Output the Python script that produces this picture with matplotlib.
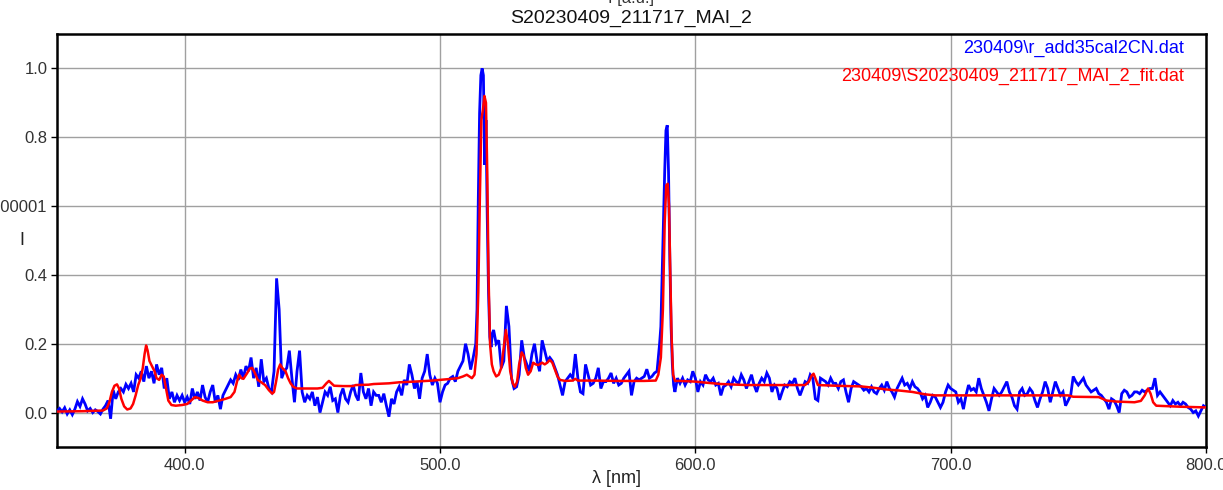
import numpy as np
import matplotlib
matplotlib.use("Agg")
import matplotlib.pyplot as plt
from matplotlib.ticker import FixedLocator, FixedFormatter

plt.rcParams["font.family"] = ["Liberation Sans", "DejaVu Sans"]

# Measured spectrum, sampled in segments (start wavelength, step, values)
meas_350 = [
    0.005, 0.012, 0.002, 0.014, -0.004, 0.008, -0.006, 0.010, 0.032, 0.018,
    0.040, 0.025, 0.005, 0.012, 0.000, 0.008, 0.003, -0.004, 0.010, 0.020,
    0.035, -0.018, 0.065, 0.040, 0.060, 0.070, 0.060, 0.082, 0.070, 0.085,
    0.060, 0.110, 0.100, 0.120, 0.090, 0.135, 0.100, 0.120, 0.085, 0.140,
    0.110, 0.130, 0.070, 0.100, 0.040, 0.060, 0.030, 0.050, 0.035, 0.050,
    0.030, 0.045, 0.025, 0.070, 0.040, 0.060, 0.035, 0.080, 0.045, 0.030,
    0.060, 0.080, 0.030, 0.050, 0.010, 0.050, 0.065, 0.080, 0.095, 0.085,
    0.110, 0.095, 0.125, 0.100, 0.135, 0.120, 0.160, 0.100, 0.130, 0.075,
    0.155, 0.090, 0.100, 0.070, 0.060, 0.120, 0.390, 0.300, 0.100, 0.120,
    0.130, 0.180, 0.100, 0.030, 0.120, 0.180, 0.060, 0.030, 0.050, 0.040,
    0.060, 0.020, 0.045, 0.000, 0.030, 0.060, 0.050, 0.075, 0.035, 0.040,
    0.000, 0.050, 0.070, 0.040, 0.030, 0.060, 0.080, 0.050, 0.035, 0.115,
    0.060, 0.040, 0.070, 0.020, 0.060, 0.050, 0.050, 0.030, 0.055, 0.020,
    -0.012, 0.040, 0.025, 0.060, 0.075, 0.050, 0.095, 0.080, 0.140, 0.110,
    0.070, 0.090, 0.040, 0.100, 0.120, 0.170, 0.110, 0.080, 0.100, 0.085,
    0.030, 0.060, 0.080, 0.085, 0.100, 0.105, 0.090, 0.120, 0.135, 0.150,
    0.200, 0.170, 0.125, 0.160,
]
meas_514 = [0.20, 0.30, 0.62, 0.87, 0.98, 1.00, 0.98, 0.72, 0.85, 0.57,
            0.35, 0.22, 0.19, 0.23]
meas_521 = [
    0.240, 0.200, 0.210, 0.130, 0.150, 0.310, 0.250, 0.100, 0.070, 0.075,
    0.110, 0.210, 0.160, 0.140, 0.120, 0.170, 0.200, 0.150, 0.120, 0.210,
    0.180, 0.150, 0.160, 0.150, 0.130, 0.110, 0.080, 0.050, 0.090, 0.100,
    0.110, 0.100, 0.170, 0.100, 0.060, 0.055, 0.140, 0.110, 0.080, 0.085,
    0.100, 0.130, 0.070, 0.090, 0.090, 0.100, 0.115, 0.085, 0.100, 0.080,
    0.085, 0.100, 0.110, 0.120, 0.050, 0.090, 0.100, 0.095, 0.100, 0.105,
    0.126, 0.100, 0.105, 0.115, 0.120,
]
meas_586 = [0.20, 0.25, 0.40, 0.55, 0.70, 0.82, 0.835, 0.70, 0.45, 0.25,
            0.14, 0.08]
meas_592 = [
    0.060, 0.100, 0.085, 0.100, 0.080, 0.095, 0.090, 0.120, 0.100, 0.060,
    0.090, 0.080, 0.110, 0.095, 0.090, 0.100, 0.080, 0.085, 0.050, 0.075,
    0.080, 0.090, 0.075, 0.100, 0.090, 0.085, 0.110, 0.095, 0.070, 0.090,
    0.110, 0.080, 0.060, 0.085, 0.100, 0.090, 0.115, 0.100, 0.060, 0.080,
    0.070, 0.037, 0.060, 0.080, 0.075, 0.090, 0.085, 0.100, 0.070, 0.050,
    0.070, 0.090, 0.085, 0.110, 0.100, 0.040, 0.035, 0.100, 0.095, 0.090,
    0.080, 0.100, 0.085, 0.085, 0.070, 0.090, 0.095, 0.060, 0.030, 0.070,
    0.090, 0.085, 0.080, 0.075, 0.065, 0.070, 0.060, 0.075, 0.060, 0.055,
    0.070, 0.080, 0.065, 0.090, 0.070, 0.060, 0.045, 0.070, 0.085, 0.100,
    0.080, 0.085, 0.070, 0.090, 0.075, 0.070, 0.060, 0.040, 0.050, 0.015,
    0.030, 0.050, 0.045, 0.030, 0.015, 0.030, 0.060, 0.080, 0.070, 0.065,
    0.060, 0.030, 0.040, 0.010, 0.050, 0.080, 0.065, 0.070, 0.060, 0.100,
    0.070, 0.050, 0.030, 0.005, 0.040, 0.070, 0.060, 0.050, 0.060, 0.075,
    0.090, 0.060, 0.045, 0.020, 0.010, 0.060, 0.070, 0.050, 0.055, 0.070,
    0.060, 0.035, 0.015, 0.040, 0.060, 0.090, 0.070, 0.030, 0.060, 0.090,
    0.070, 0.050, 0.060, 0.020, 0.035, 0.050, 0.105, 0.090, 0.080, 0.090,
    0.100, 0.080, 0.070, 0.060, 0.065, 0.070, 0.055, 0.050, 0.040, 0.030,
    0.010, 0.040, 0.035, 0.020, 0.000, 0.055, 0.065, 0.060, 0.045, 0.050,
    0.060, 0.060, 0.055, 0.065, 0.060, 0.065, 0.070, 0.070, 0.100, 0.050,
    0.060, 0.050, 0.040, 0.030, 0.020, 0.035, 0.025, 0.030, 0.020, 0.030,
    0.025, 0.015, 0.010, 0.000, 0.005, -0.010, 0.005, 0.020, 0.015,
]
meas_segments = [
    (350.0, 1.0, meas_350),
    (514.0, 0.5, meas_514),
    (521.0, 1.0, meas_521),
    (586.0, 0.5, meas_586),
    (592.0, 1.0, meas_592),
]

# Fitted spectrum (wavelength, intensity)
fit_nm = [
    350, 360, 368, 369.5, 370.5, 371.5, 372.5, 373.5, 374.3, 375.2,
    376.3, 377.5, 378.8, 379.8, 380.8, 381.8, 382.8, 383.6, 384.3, 384.9,
    385.5, 386.2, 387.2, 388.2, 389, 390, 391, 391.8, 392.7, 393.6,
    394.8, 396.5, 399, 401, 402.5, 404, 405.5, 407, 409, 411,
    413.5, 416, 418, 419.5, 420.5, 421.3, 422.2, 423, 424.5, 425.5,
    426.4, 427.5, 428.6, 430, 431.5, 433, 434.3, 435, 435.8, 436.6,
    437.4, 438.2, 439.5, 440.5, 441.5, 442.5, 444, 449, 452, 454,
    455.5, 456.5, 457.5, 458.5, 462, 466, 467, 472, 474, 480,
    484, 490, 497, 503, 507, 509, 510.5, 511.5, 512.5, 513.5,
    514.3, 515, 515.6, 516.2, 516.8, 517.4, 518, 518.5, 519, 519.6,
    520.3, 521, 522, 523, 524, 525, 525.8, 526.6, 527.5, 528.5,
    529.3, 530.2, 531, 532, 532.8, 533.6, 534.5, 535.5, 536.5, 537.5,
    538.5, 540, 541, 542, 543, 544, 545, 546, 547, 549,
    552, 553, 554, 560, 570, 580, 584.5, 585.5, 586.5, 587.3,
    588, 588.6, 589.2, 589.7, 590.2, 590.7, 591.3, 592, 594, 600,
    604, 610, 620, 630, 643, 644.5, 645.6, 646.3, 647, 648,
    655, 665, 670, 675, 680, 685, 690, 694, 700, 720,
    746, 748, 758, 761, 765, 772, 774.5, 776, 777.3, 778.3,
    779.3, 780.5, 790, 800,
]
fit_I = [
    0.003, 0.004, 0.006, 0.012, 0.030, 0.060, 0.078, 0.082, 0.070, 0.040,
    0.018, 0.009, 0.012, 0.025, 0.050, 0.080, 0.100, 0.130, 0.170, 0.195,
    0.180, 0.150, 0.135, 0.120, 0.100, 0.095, 0.110, 0.105, 0.070, 0.035,
    0.022, 0.020, 0.022, 0.025, 0.035, 0.045, 0.042, 0.035, 0.030, 0.030,
    0.035, 0.040, 0.045, 0.060, 0.090, 0.110, 0.100, 0.098, 0.115, 0.128,
    0.130, 0.115, 0.095, 0.088, 0.080, 0.065, 0.055, 0.060, 0.090, 0.125,
    0.140, 0.130, 0.120, 0.100, 0.085, 0.075, 0.070, 0.070, 0.070, 0.072,
    0.085, 0.092, 0.085, 0.078, 0.077, 0.077, 0.080, 0.081, 0.083, 0.085,
    0.088, 0.090, 0.093, 0.097, 0.100, 0.105, 0.110, 0.105, 0.100, 0.110,
    0.170, 0.350, 0.620, 0.850, 0.880, 0.920, 0.900, 0.700, 0.400, 0.200,
    0.140, 0.120, 0.105, 0.110, 0.130, 0.190, 0.240, 0.200, 0.120, 0.085,
    0.075, 0.090, 0.140, 0.175, 0.165, 0.130, 0.110, 0.120, 0.145, 0.140,
    0.138, 0.145, 0.140, 0.145, 0.153, 0.145, 0.125, 0.105, 0.095, 0.092,
    0.093, 0.098, 0.093, 0.093, 0.092, 0.092, 0.093, 0.110, 0.160, 0.300,
    0.550, 0.660, 0.665, 0.600, 0.400, 0.220, 0.110, 0.092, 0.092, 0.090,
    0.087, 0.083, 0.080, 0.080, 0.080, 0.090, 0.108, 0.113, 0.100, 0.080,
    0.078, 0.076, 0.072, 0.067, 0.064, 0.060, 0.053, 0.050, 0.050, 0.050,
    0.050, 0.046, 0.045, 0.035, 0.032, 0.030, 0.034, 0.050, 0.070, 0.055,
    0.030, 0.020, 0.017, 0.015,
]

x_ticks = [400.0, 500.0, 600.0, 700.0, 800.0]
x_tick_labels = ["400.0", "500.0", "600.0", "700.0", "800.0"]
y_ticks = [0.0, 0.2, 0.4, 0.6, 0.8, 1.0]
y_tick_labels = ["0.0", "0.2", "0.4", "0.600000000000001", "0.8", "1.0"]

title = "S20230409_211717_MAI_2"
meas_name = "230409\\r_add35cal2CN.dat"
fit_name = "230409\\S20230409_211717_MAI_2_fit.dat"

meas_nm = np.concatenate([s + d * np.arange(len(v)) for s, d, v in meas_segments])
meas_I = np.concatenate([np.asarray(v, float) for _, _, v in meas_segments])

W, H = 1223, 490
fig = plt.figure(figsize=(W / 100, H / 100), dpi=100)
ax = fig.add_axes([57 / W, 43 / H, 1149 / W, 413 / H])

ax.plot(meas_nm, meas_I, color="#0000ff", lw=2.0, solid_joinstyle="miter", zorder=3)
ax.plot(fit_nm, fit_I, color="#ff0000", lw=1.8, zorder=4)

ax.set_xlim(350, 800)
ax.set_ylim(-0.1, 1.1)
ax.xaxis.set_major_locator(FixedLocator(x_ticks))
ax.xaxis.set_major_formatter(FixedFormatter(x_tick_labels))
ax.yaxis.set_major_locator(FixedLocator(y_ticks))
ax.yaxis.set_major_formatter(FixedFormatter(y_tick_labels))
ax.grid(True, color="#a0a0a0", lw=1.0, zorder=1)
ax.tick_params(axis="both", direction="out", length=4, width=1, colors="#000000",
               labelcolor="#333333", labelsize=12)
ax.tick_params(axis="x", pad=4)
ax.tick_params(axis="y", pad=3)
for sp in ax.spines.values():
    sp.set_linewidth(1.8)
    sp.set_color("#000000")

ax.text(0.9805, 0.965, meas_name, transform=ax.transAxes, ha="right", va="center",
        color="#0000ff", fontsize=13)
ax.text(0.9805, 0.898, fit_name, transform=ax.transAxes, ha="right", va="center",
        color="#ff0000", fontsize=13)

fig.text(631 / W, 1 - 18 / H, title, ha="center", va="center", fontsize=14,
         color="#111111")
fig.text(631 / W, 1 - 3 / H, "I [a.u.]", ha="center", va="baseline", fontsize=12,
         color="#333333")
fig.text(616 / W, 1 - 478 / H, "λ [nm]", ha="center", va="center", fontsize=13,
         color="#222222")
fig.text(22 / W, 1 - 240 / H, "I", ha="center", va="center", fontsize=13,
         color="#222222")

fig.savefig("out.png", dpi=100)
